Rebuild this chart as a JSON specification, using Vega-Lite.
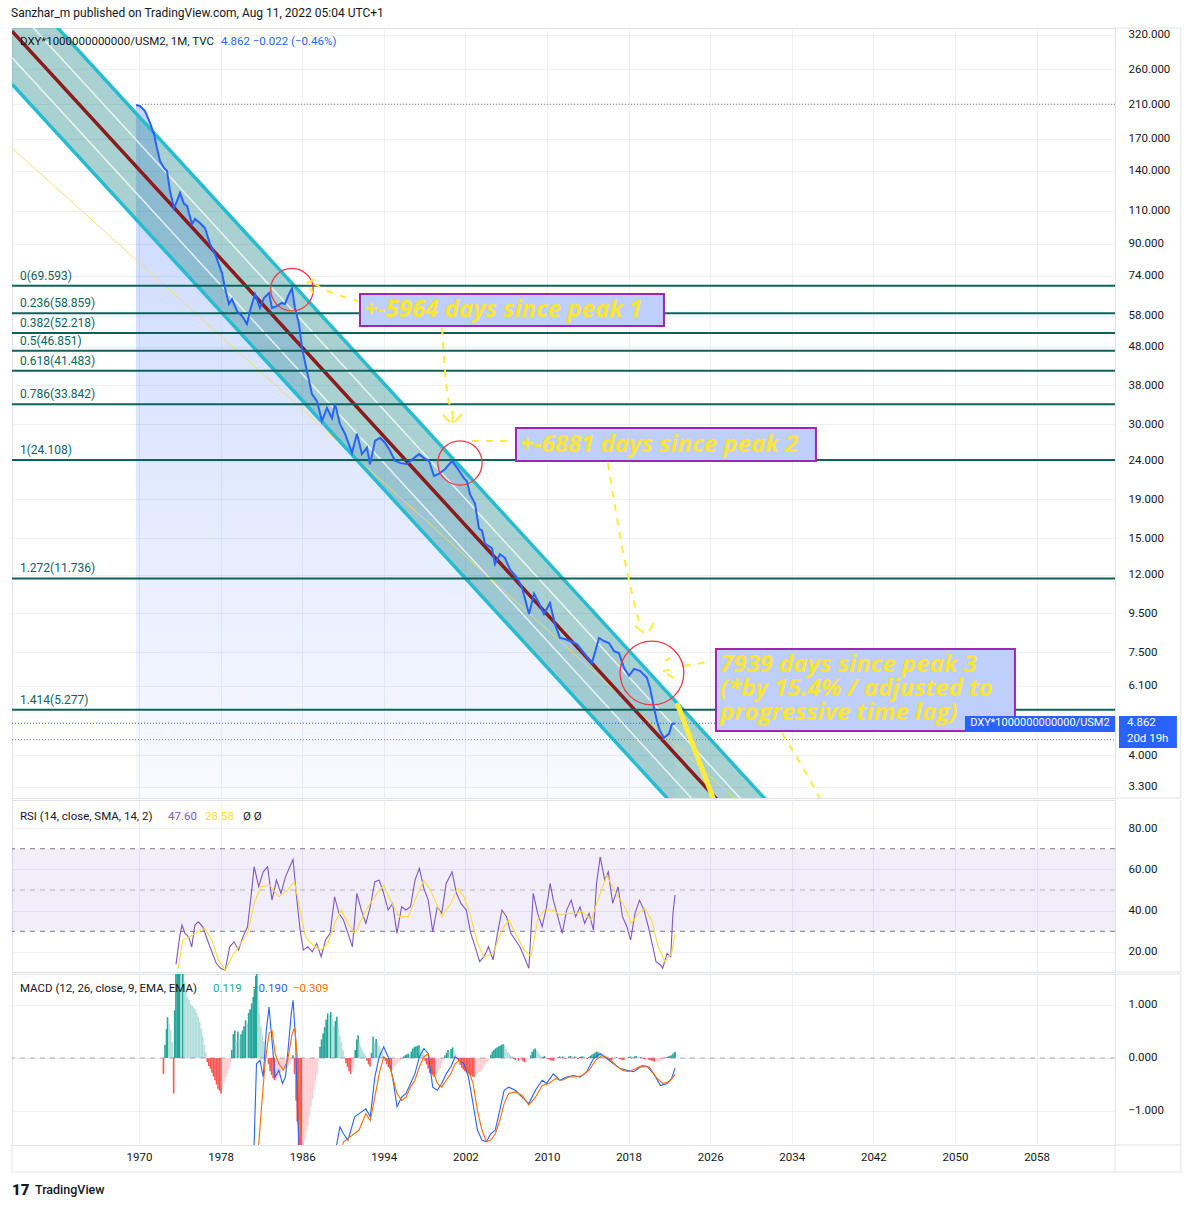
{
"$schema": "https://vega.github.io/schema/vega-lite/v6.json",
"background": "white",
"padding": {"left": 10, "top": 6, "right": 5, "bottom": 5},
"spacing": 0,
"config": {
  "font": "Roboto",
  "view": {"stroke": "#e0e3eb"},
  "axis": {"gridColor": "#eef0f5", "labelColor": "#131722", "labelFontSize": 11.5, "labelFont": "Roboto", "ticks": false, "domain": false}
},
"datasets": {
  "one": [{}],
  "price": [
    {"t":1969.7,"v":209.0},{"t":1970.1,"v":207.8},{"t":1970.59,"v":201.5},{"t":1971.08,"v":187.4},{"t":1971.47,"v":175.2},{"t":1971.76,"v":160.9},{"t":1972.06,"v":148.7},{"t":1972.45,"v":142.5},{"t":1972.75,"v":139.9},{"t":1973.04,"v":123.9},{"t":1973.43,"v":111.7},{"t":1973.73,"v":116.6},{"t":1974.02,"v":122.4},{"t":1974.41,"v":114.5},{"t":1974.71,"v":113.1},{"t":1975.2,"v":101.4},{"t":1975.49,"v":104.5},{"t":1975.98,"v":102.0},{"t":1976.47,"v":98.9},{"t":1976.96,"v":89.8},{"t":1977.45,"v":84.5},{"t":1978.14,"v":75.2},{"t":1978.43,"v":68.7},{"t":1978.82,"v":62.3},{"t":1979.12,"v":64.2},{"t":1979.61,"v":59.7},{"t":1980.1,"v":57.9},{"t":1980.59,"v":55.2},{"t":1980.88,"v":59.7},{"t":1981.37,"v":66.2},{"t":1981.86,"v":60.8},{"t":1982.25,"v":64.6},{"t":1982.75,"v":66.6},{"t":1983.04,"v":60.8},{"t":1983.53,"v":61.6},{"t":1984.02,"v":62.7},{"t":1984.31,"v":62.3},{"t":1984.71,"v":66.2},{"t":1985.0,"v":68.5},{"t":1985.29,"v":60.8},{"t":1985.69,"v":55.2},{"t":1985.98,"v":47.7},{"t":1986.47,"v":41.4},{"t":1986.96,"v":36.0},{"t":1987.45,"v":34.5},{"t":1987.94,"v":30.6},{"t":1988.43,"v":33.1},{"t":1988.92,"v":31.1},{"t":1989.22,"v":33.9},{"t":1989.71,"v":30.0},{"t":1990.2,"v":28.3},{"t":1990.88,"v":25.2},{"t":1991.37,"v":28.3},{"t":1991.86,"v":25.0},{"t":1992.35,"v":26.0},{"t":1992.65,"v":23.5},{"t":1993.14,"v":27.1},{"t":1993.63,"v":27.6},{"t":1994.12,"v":26.8},{"t":1994.61,"v":25.5},{"t":1995.1,"v":24.0},{"t":1995.59,"v":23.7},{"t":1996.27,"v":23.5},{"t":1996.96,"v":24.4},{"t":1997.45,"v":25.0},{"t":1997.94,"v":24.4},{"t":1998.43,"v":24.0},{"t":1998.92,"v":21.9},{"t":1999.41,"v":22.2},{"t":2000.0,"v":22.8},{"t":2000.69,"v":24.0},{"t":2001.18,"v":23.0},{"t":2001.86,"v":21.6},{"t":2002.16,"v":21.2},{"t":2002.45,"v":19.6},{"t":2002.94,"v":18.5},{"t":2003.33,"v":15.9},{"t":2003.63,"v":15.7},{"t":2003.92,"v":14.5},{"t":2004.61,"v":14.1},{"t":2004.9,"v":12.8},{"t":2005.39,"v":13.6},{"t":2005.88,"v":13.3},{"t":2006.37,"v":12.4},{"t":2007.06,"v":11.8},{"t":2007.55,"v":11.1},{"t":2008.24,"v":9.45},{"t":2008.73,"v":10.7},{"t":2009.22,"v":10.1},{"t":2009.71,"v":9.45},{"t":2010.29,"v":10.1},{"t":2010.78,"v":8.9},{"t":2011.27,"v":8.17},{"t":2011.76,"v":8.12},{"t":2012.25,"v":8.02},{"t":2012.94,"v":7.87},{"t":2013.63,"v":7.45},{"t":2014.41,"v":7.01},{"t":2015.1,"v":8.17},{"t":2015.59,"v":8.02},{"t":2016.08,"v":7.92},{"t":2016.57,"v":7.54},{"t":2017.06,"v":7.45},{"t":2017.55,"v":6.81},{"t":2018.04,"v":6.49},{"t":2018.53,"v":6.77},{"t":2019.12,"v":6.69},{"t":2019.8,"v":6.41},{"t":2020.1,"v":6.03},{"t":2020.49,"v":5.34},{"t":2020.78,"v":4.93},{"t":2021.08,"v":4.64},{"t":2021.47,"v":4.45},{"t":2021.96,"v":4.56},{"t":2022.25,"v":4.84},{"t":2022.55,"v":4.862}
  ],
  "chan": [{"t":1957.55,"up":452.3,"lo":237.4},{"t":2035.0,"up":2.4026,"lo":1.2609}],
  "chl": [
    {"ln":"upper","t":1957.55,"v":452.3},{"ln":"upper","t":2035.0,"v":2.4026},
    {"ln":"q1","t":1957.55,"v":385.0},{"ln":"q1","t":2035.0,"v":2.0449},
    {"ln":"center","t":1957.55,"v":327.7},{"ln":"center","t":2035.0,"v":1.7405},
    {"ln":"q3","t":1957.55,"v":278.9},{"ln":"q3","t":2035.0,"v":1.4814},
    {"ln":"lower","t":1957.55,"v":237.4},{"ln":"lower","t":2035.0,"v":1.2609}
  ],
  "ylw": [{"t":1957.55,"v":160.9},{"t":2035.0,"v":2.13}],
  "proj": [{"t":2022.75,"v":5.5},{"t":2027.06,"v":2.718}],
  "fib": [
    {"lab":"0(69.593)","lv":69.593},{"lab":"0.236(58.859)","lv":58.859},{"lab":"0.382(52.218)","lv":52.218},{"lab":"0.5(46.851)","lv":46.851},{"lab":"0.618(41.483)","lv":41.483},{"lab":"0.786(33.842)","lv":33.842},{"lab":"1(24.108)","lv":24.108},{"lab":"1.272(11.736)","lv":11.736},{"lab":"1.414(5.277)","lv":5.277}
  ],
  "conn": [
    {"seg":"A","t":1987.16,"v":70.37},{"seg":"A","t":1989.22,"v":66.21},{"seg":"A","t":1991.47,"v":63.46},
    {"seg":"B","t":1999.71,"v":53.85},{"seg":"B","t":2000.0,"v":41.45},{"seg":"B","t":2000.69,"v":32.11},
    {"seg":"C","t":2002.65,"v":27.08},{"seg":"C","t":2006.76,"v":27.08},
    {"seg":"D","t":2015.98,"v":23.69},{"seg":"D","t":2017.35,"v":14.3},{"seg":"D","t":2019.12,"v":8.79},
    {"seg":"E","t":2023.43,"v":6.89},{"seg":"E","t":2025.78,"v":7.06},
    {"seg":"F","t":2033.04,"v":4.58},{"seg":"F","t":2035.0,"v":3.75},{"seg":"F","t":2037.16,"v":2.94}
  ],
  "burst": [
    {"seg":"A1","t":1986.47,"v":70.79},{"seg":"A1","t":1987.25,"v":72.53},
    {"seg":"A2","t":1986.76,"v":68.67},{"seg":"A2","t":1987.06,"v":66.62},
    {"seg":"B1","t":1999.8,"v":31.72},{"seg":"B1","t":2000.49,"v":30.4},
    {"seg":"B2","t":2000.75,"v":32.5},{"seg":"B2","t":2000.76,"v":30.21},
    {"seg":"B3","t":2001.67,"v":31.91},{"seg":"B3","t":2000.98,"v":30.4},
    {"seg":"D1","t":2018.63,"v":8.79},{"seg":"D1","t":2019.51,"v":8.43},
    {"seg":"D2","t":2020.49,"v":8.95},{"seg":"D2","t":2020.0,"v":8.52},
    {"seg":"E1","t":2021.57,"v":7.1},{"seg":"E1","t":2022.06,"v":7.24},
    {"seg":"E2","t":2021.37,"v":6.68},{"seg":"E2","t":2022.06,"v":6.73},
    {"seg":"E3","t":2021.76,"v":6.56},{"seg":"E3","t":2022.45,"v":6.41}
  ],
  "boxes": [{"t1":1991.67,"t2":2021.47,"v1":66.21,"v2":54.51},{"t1":2006.96,"t2":2036.37,"v1":29.31,"v2":23.98},{"t1":2026.57,"t2":2055.88,"v1":7.64,"v2":4.64}],
  "notes": [{"txt":"+-5964 days since peak 1","t":1992.06,"v":60.08},{"txt":"+-6881 days since peak 2","t":2007.35,"v":26.43},{"txt":"7939 days since peak 3","t":2026.96,"v":6.93},{"txt":"(*by 15.4% / adjusted to","t":2026.96,"v":5.99},{"txt":"progressive time lag)","t":2026.96,"v":5.18}],
  "rsi": [
    {"t":1973.63,"v":14},{"t":1973.99,"v":27.4},{"t":1974.22,"v":33.0},{"t":1974.51,"v":29.0},{"t":1974.86,"v":27.4},{"t":1975.17,"v":22.5},{"t":1975.48,"v":33.0},{"t":1975.82,"v":34.6},{"t":1976.26,"v":32.2},{"t":1976.71,"v":25.8},{"t":1977.14,"v":20.1},{"t":1977.58,"v":14.5},{"t":1978.01,"v":12.1},{"t":1978.45,"v":11.2},{"t":1978.89,"v":22.5},{"t":1979.32,"v":24.9},{"t":1979.76,"v":20.9},{"t":1980.2,"v":27.4},{"t":1980.64,"v":32.2},{"t":1980.98,"v":46.7},{"t":1981.29,"v":61.3},{"t":1981.74,"v":51.6},{"t":1982.18,"v":58.8},{"t":1982.61,"v":61.3},{"t":1983.04,"v":45.1},{"t":1983.48,"v":54.8},{"t":1983.92,"v":48.4},{"t":1984.36,"v":56.4},{"t":1984.79,"v":61.3},{"t":1985.1,"v":64.8},{"t":1985.45,"v":46.7},{"t":1985.8,"v":30.6},{"t":1986.11,"v":20.9},{"t":1986.55,"v":22.5},{"t":1986.99,"v":20.1},{"t":1987.42,"v":24.2},{"t":1987.86,"v":17.7},{"t":1988.29,"v":25.8},{"t":1988.74,"v":29.0},{"t":1989.18,"v":46.7},{"t":1989.61,"v":38.7},{"t":1990.05,"v":35.5},{"t":1990.49,"v":29.0},{"t":1990.92,"v":22.5},{"t":1991.36,"v":48.4},{"t":1991.8,"v":40.3},{"t":1992.24,"v":33.9},{"t":1992.68,"v":41.9},{"t":1993.12,"v":54.0},{"t":1993.55,"v":54.8},{"t":1993.99,"v":48.4},{"t":1994.43,"v":40.3},{"t":1994.86,"v":43.5},{"t":1995.29,"v":29.0},{"t":1995.75,"v":41.9},{"t":1996.18,"v":40.3},{"t":1996.62,"v":41.9},{"t":1997.06,"v":54.8},{"t":1997.49,"v":60.5},{"t":1997.93,"v":50.8},{"t":1998.36,"v":45.1},{"t":1998.8,"v":29.8},{"t":1999.25,"v":41.9},{"t":1999.68,"v":38.7},{"t":2000.12,"v":53.2},{"t":2000.69,"v":58.8},{"t":2001.13,"v":48.4},{"t":2001.56,"v":43.5},{"t":2002.09,"v":40.3},{"t":2002.53,"v":29.0},{"t":2002.96,"v":22.5},{"t":2003.4,"v":15.3},{"t":2003.83,"v":17.7},{"t":2004.27,"v":22.5},{"t":2004.71,"v":16.1},{"t":2005.15,"v":29.0},{"t":2005.59,"v":40.3},{"t":2006.03,"v":37.1},{"t":2006.46,"v":29.0},{"t":2006.9,"v":25.8},{"t":2007.34,"v":22.5},{"t":2007.77,"v":17.7},{"t":2008.22,"v":12.1},{"t":2008.65,"v":48.4},{"t":2009.09,"v":38.7},{"t":2009.53,"v":32.2},{"t":2009.96,"v":41.9},{"t":2010.31,"v":53.2},{"t":2010.62,"v":45.1},{"t":2011.06,"v":37.1},{"t":2011.5,"v":29.0},{"t":2011.93,"v":40.3},{"t":2012.37,"v":45.1},{"t":2012.81,"v":37.1},{"t":2013.25,"v":41.9},{"t":2013.69,"v":33.9},{"t":2014.13,"v":38.7},{"t":2014.56,"v":30.6},{"t":2014.86,"v":53.2},{"t":2015.22,"v":66.1},{"t":2015.66,"v":54.8},{"t":2016.01,"v":58.8},{"t":2016.44,"v":43.5},{"t":2016.97,"v":51.6},{"t":2017.4,"v":37.1},{"t":2017.84,"v":32.2},{"t":2018.2,"v":25.8},{"t":2018.63,"v":38.7},{"t":2019.07,"v":45.1},{"t":2019.51,"v":40.3},{"t":2019.94,"v":32.2},{"t":2020.38,"v":22.5},{"t":2020.69,"v":15.3},{"t":2021.13,"v":13.7},{"t":2021.34,"v":12.1},{"t":2021.78,"v":19.3},{"t":2022.13,"v":17.7},{"t":2022.35,"v":38.7},{"t":2022.55,"v":47.6}
  ],
  "sma": [
    {"t":1973.85,"v":12},{"t":1974.29,"v":25.8},{"t":1974.95,"v":27.4},{"t":1975.82,"v":29.8},{"t":1976.48,"v":31.4},{"t":1977.14,"v":25.8},{"t":1977.79,"v":16.1},{"t":1978.45,"v":11.2},{"t":1979.11,"v":17.7},{"t":1979.76,"v":22.5},{"t":1980.64,"v":29.0},{"t":1981.29,"v":43.5},{"t":1981.95,"v":51.6},{"t":1982.82,"v":52.4},{"t":1983.71,"v":46.7},{"t":1984.58,"v":50.0},{"t":1985.24,"v":54.0},{"t":1985.8,"v":40.3},{"t":1986.32,"v":27.4},{"t":1987.21,"v":22.5},{"t":1987.86,"v":20.9},{"t":1988.52,"v":24.2},{"t":1989.18,"v":33.9},{"t":1989.83,"v":40.3},{"t":1990.49,"v":33.9},{"t":1991.15,"v":29.0},{"t":1991.8,"v":35.5},{"t":1992.46,"v":41.9},{"t":1993.33,"v":48.4},{"t":1993.99,"v":52.4},{"t":1994.65,"v":45.1},{"t":1995.52,"v":37.1},{"t":1996.4,"v":37.1},{"t":1997.05,"v":45.1},{"t":1997.93,"v":54.8},{"t":1998.59,"v":50.0},{"t":1999.68,"v":37.1},{"t":2000.56,"v":43.5},{"t":2001.22,"v":50.8},{"t":2001.87,"v":46.7},{"t":2002.53,"v":37.1},{"t":2003.19,"v":24.2},{"t":2003.83,"v":17.7},{"t":2004.71,"v":19.3},{"t":2005.59,"v":30.6},{"t":2006.25,"v":35.5},{"t":2006.9,"v":29.0},{"t":2007.77,"v":20.9},{"t":2008.43,"v":17.7},{"t":2009.09,"v":35.5},{"t":2009.75,"v":40.3},{"t":2010.62,"v":40.3},{"t":2011.27,"v":37.9},{"t":2011.93,"v":38.7},{"t":2012.81,"v":38.7},{"t":2013.47,"v":39.5},{"t":2014.34,"v":35.5},{"t":2015.0,"v":45.1},{"t":2015.87,"v":57.2},{"t":2016.75,"v":48.4},{"t":2017.63,"v":41.9},{"t":2018.27,"v":33.9},{"t":2018.94,"v":38.7},{"t":2019.6,"v":41.1},{"t":2020.25,"v":35.5},{"t":2020.91,"v":22.5},{"t":2021.57,"v":15.3},{"t":2022.22,"v":19.3},{"t":2022.55,"v":28.58}
  ],
  "macd": [
    {"t":1972.5,"v":-4},{"t":1980.8,"v":-2.6},{"t":1981.29,"v":-1.62},{"t":1981.52,"v":-0.11},{"t":1981.86,"v":-0.04},{"t":1982.18,"v":-0.36},{"t":1982.48,"v":0.52},{"t":1982.75,"v":0.96},{"t":1983.04,"v":0.33},{"t":1983.35,"v":-0.36},{"t":1983.71,"v":-0.23},{"t":1984.06,"v":-0.48},{"t":1984.36,"v":-0.36},{"t":1984.67,"v":0.27},{"t":1984.93,"v":0.84},{"t":1985.11,"v":1.09},{"t":1985.37,"v":0.27},{"t":1985.54,"v":-0.99},{"t":1985.72,"v":-1.75},{"t":1986.5,"v":-3.2},{"t":1988.5,"v":-2.5},{"t":1989.39,"v":-1.62},{"t":1989.7,"v":-1.3},{"t":1990.05,"v":-1.43},{"t":1990.49,"v":-1.55},{"t":1991.15,"v":-1.11},{"t":1991.58,"v":-1.05},{"t":1992.24,"v":-0.96},{"t":1992.68,"v":-1.11},{"t":1993.12,"v":-0.36},{"t":1993.55,"v":0.02},{"t":1993.99,"v":0.21},{"t":1994.43,"v":0.02},{"t":1994.86,"v":-0.36},{"t":1995.3,"v":-0.92},{"t":1995.75,"v":-0.74},{"t":1996.18,"v":-0.67},{"t":1996.62,"v":-0.48},{"t":1997.05,"v":-0.3},{"t":1997.49,"v":0.02},{"t":1997.93,"v":0.18},{"t":1998.36,"v":0.08},{"t":1998.8,"v":-0.55},{"t":1999.25,"v":-0.61},{"t":1999.68,"v":-0.48},{"t":2000.12,"v":-0.3},{"t":2000.56,"v":-0.17},{"t":2000.99,"v":0.02},{"t":2001.43,"v":-0.04},{"t":2001.87,"v":-0.11},{"t":2002.3,"v":-0.36},{"t":2002.75,"v":-0.86},{"t":2003.18,"v":-1.36},{"t":2003.62,"v":-1.55},{"t":2004.06,"v":-1.58},{"t":2004.49,"v":-1.43},{"t":2004.93,"v":-1.36},{"t":2005.37,"v":-0.99},{"t":2005.8,"v":-0.61},{"t":2006.25,"v":-0.55},{"t":2006.9,"v":-0.61},{"t":2007.56,"v":-0.74},{"t":2008.22,"v":-0.86},{"t":2008.87,"v":-0.61},{"t":2009.53,"v":-0.42},{"t":2009.96,"v":-0.48},{"t":2010.62,"v":-0.3},{"t":2011.27,"v":-0.42},{"t":2011.93,"v":-0.36},{"t":2012.59,"v":-0.33},{"t":2013.25,"v":-0.36},{"t":2013.9,"v":-0.26},{"t":2014.56,"v":-0.01},{"t":2015.22,"v":0.08},{"t":2015.87,"v":-0.01},{"t":2016.53,"v":-0.11},{"t":2017.19,"v":-0.2},{"t":2017.84,"v":-0.23},{"t":2018.5,"v":-0.26},{"t":2019.16,"v":-0.17},{"t":2019.81,"v":-0.16},{"t":2020.47,"v":-0.3},{"t":2021.13,"v":-0.52},{"t":2021.78,"v":-0.48},{"t":2022.22,"v":-0.39},{"t":2022.55,"v":-0.19}
  ],
  "sig": [
    {"t":1972.5,"v":-4},{"t":1981.0,"v":-2.8},{"t":1981.74,"v":-1.62},{"t":1982.04,"v":-0.86},{"t":1982.39,"v":-0.04},{"t":1982.75,"v":0.46},{"t":1983.04,"v":0.52},{"t":1983.35,"v":0.08},{"t":1983.71,"v":-0.11},{"t":1984.15,"v":-0.23},{"t":1984.58,"v":-0.04},{"t":1985.02,"v":0.46},{"t":1985.28,"v":0.58},{"t":1985.54,"v":-0.04},{"t":1985.8,"v":-1.11},{"t":1985.98,"v":-1.75},{"t":1987.0,"v":-3.2},{"t":1989.0,"v":-2.5},{"t":1990.05,"v":-1.58},{"t":1991.58,"v":-1.36},{"t":1992.24,"v":-1.05},{"t":1992.68,"v":-1.18},{"t":1993.12,"v":-0.74},{"t":1993.55,"v":-0.3},{"t":1993.99,"v":0.02},{"t":1994.43,"v":-0.04},{"t":1994.86,"v":-0.36},{"t":1995.3,"v":-0.67},{"t":1995.75,"v":-0.8},{"t":1996.18,"v":-0.74},{"t":1996.62,"v":-0.55},{"t":1997.05,"v":-0.42},{"t":1997.49,"v":-0.17},{"t":1997.93,"v":0.02},{"t":1998.36,"v":0.08},{"t":1998.8,"v":-0.23},{"t":1999.25,"v":-0.48},{"t":1999.68,"v":-0.55},{"t":2000.12,"v":-0.42},{"t":2000.56,"v":-0.3},{"t":2000.99,"v":-0.11},{"t":2001.43,"v":-0.04},{"t":2001.87,"v":-0.07},{"t":2002.3,"v":-0.23},{"t":2002.75,"v":-0.48},{"t":2003.18,"v":-0.99},{"t":2003.62,"v":-1.36},{"t":2004.06,"v":-1.58},{"t":2004.49,"v":-1.55},{"t":2004.93,"v":-1.43},{"t":2005.37,"v":-1.18},{"t":2005.8,"v":-0.86},{"t":2006.25,"v":-0.67},{"t":2006.9,"v":-0.64},{"t":2007.56,"v":-0.7},{"t":2008.22,"v":-0.89},{"t":2008.87,"v":-0.74},{"t":2009.53,"v":-0.52},{"t":2010.19,"v":-0.48},{"t":2010.84,"v":-0.39},{"t":2011.5,"v":-0.42},{"t":2012.16,"v":-0.36},{"t":2012.81,"v":-0.36},{"t":2013.47,"v":-0.33},{"t":2014.13,"v":-0.23},{"t":2014.78,"v":-0.04},{"t":2015.43,"v":0.05},{"t":2016.09,"v":-0.01},{"t":2016.75,"v":-0.14},{"t":2017.4,"v":-0.23},{"t":2018.06,"v":-0.26},{"t":2018.72,"v":-0.2},{"t":2019.37,"v":-0.14},{"t":2020.03,"v":-0.17},{"t":2020.69,"v":-0.36},{"t":2021.34,"v":-0.48},{"t":2022.0,"v":-0.45},{"t":2022.55,"v":-0.309}
  ],
  "hist": [
    {"t":1972.4,"h":-0.3,"k":"r"},{"t":1972.55,"h":0.25,"k":"g"},{"t":1972.7,"h":0.55,"k":"g"},{"t":1972.8,"h":0.77,"k":"g"},{"t":1972.95,"h":0.65,"k":"lg"},{"t":1973.1,"h":0.53,"k":"lg"},{"t":1973.25,"h":0.3,"k":"lg"},{"t":1973.4,"h":-0.67,"k":"r"},{"t":1973.5,"h":0.9,"k":"g"},{"t":1973.62,"h":1.7,"k":"g"},{"t":1973.75,"h":1.7,"k":"g"},{"t":1973.88,"h":1.7,"k":"g"},{"t":1974.0,"h":1.7,"k":"g"},{"t":1974.15,"h":1.55,"k":"lg"},{"t":1974.3,"h":1.7,"k":"g"},{"t":1974.45,"h":1.45,"k":"lg"},{"t":1974.6,"h":1.25,"k":"lg"},{"t":1974.75,"h":1.15,"k":"lg"},{"t":1974.9,"h":1.1,"k":"lg"},{"t":1975.05,"h":1.02,"k":"lg"},{"t":1975.2,"h":0.98,"k":"lg"},{"t":1975.35,"h":0.95,"k":"lg"},{"t":1975.5,"h":0.92,"k":"lg"},{"t":1975.65,"h":0.86,"k":"lg"},{"t":1975.8,"h":0.78,"k":"lg"},{"t":1975.95,"h":0.68,"k":"lg"},{"t":1976.1,"h":0.55,"k":"lg"},{"t":1976.25,"h":0.42,"k":"lg"},{"t":1976.4,"h":0.25,"k":"lg"},{"t":1976.55,"h":0.1,"k":"lg"},
    {"t":1976.7,"h":-0.08,"k":"r"},{"t":1976.85,"h":-0.15,"k":"r"},{"t":1977.0,"h":-0.2,"k":"r"},{"t":1977.15,"h":-0.28,"k":"r"},{"t":1977.3,"h":-0.35,"k":"r"},{"t":1977.45,"h":-0.42,"k":"r"},{"t":1977.6,"h":-0.5,"k":"r"},{"t":1977.75,"h":-0.58,"k":"r"},{"t":1977.9,"h":-0.62,"k":"r"},{"t":1978.05,"h":-0.67,"k":"r"},{"t":1978.2,"h":-0.55,"k":"lr"},{"t":1978.35,"h":-0.45,"k":"lr"},{"t":1978.5,"h":-0.38,"k":"lr"},{"t":1978.65,"h":-0.3,"k":"lr"},{"t":1978.8,"h":-0.22,"k":"lr"},{"t":1978.95,"h":-0.12,"k":"lr"},
    {"t":1979.1,"h":0.15,"k":"g"},{"t":1979.25,"h":0.45,"k":"g"},{"t":1979.4,"h":0.52,"k":"g"},{"t":1979.55,"h":0.3,"k":"lg"},{"t":1979.7,"h":0.5,"k":"g"},{"t":1979.85,"h":0.35,"k":"lg"},{"t":1980.0,"h":0.45,"k":"g"},{"t":1980.15,"h":0.52,"k":"g"},{"t":1980.3,"h":0.6,"k":"g"},{"t":1980.45,"h":0.71,"k":"g"},{"t":1980.6,"h":0.65,"k":"lg"},{"t":1980.75,"h":0.85,"k":"g"},{"t":1980.9,"h":0.92,"k":"g"},{"t":1981.05,"h":1.03,"k":"g"},{"t":1981.2,"h":1.15,"k":"g"},{"t":1981.32,"h":1.3,"k":"g"},{"t":1981.45,"h":1.55,"k":"g"},{"t":1981.55,"h":1.7,"k":"g"},{"t":1981.68,"h":1.1,"k":"lg"},{"t":1981.8,"h":0.85,"k":"lg"},{"t":1981.95,"h":0.6,"k":"lg"},{"t":1982.1,"h":0.45,"k":"lg"},{"t":1982.25,"h":0.32,"k":"lg"},{"t":1982.4,"h":0.15,"k":"lg"},{"t":1982.55,"h":0.05,"k":"lg"},
    {"t":1982.7,"h":-0.12,"k":"r"},{"t":1982.85,"h":-0.25,"k":"r"},{"t":1983.0,"h":-0.32,"k":"r"},{"t":1983.15,"h":-0.38,"k":"r"},{"t":1983.3,"h":-0.42,"k":"r"},{"t":1983.45,"h":-0.4,"k":"lr"},{"t":1983.6,"h":-0.37,"k":"lr"},{"t":1983.75,"h":-0.34,"k":"lr"},{"t":1983.9,"h":-0.28,"k":"lr"},{"t":1984.05,"h":-0.24,"k":"lr"},{"t":1984.2,"h":-0.22,"k":"lr"},{"t":1984.35,"h":-0.2,"k":"lr"},{"t":1984.5,"h":-0.18,"k":"lr"},{"t":1984.65,"h":-0.15,"k":"lr"},{"t":1984.8,"h":-0.1,"k":"lr"},{"t":1984.95,"h":-0.04,"k":"lr"},{"t":1985.1,"h":0.05,"k":"g"},
    {"t":1985.25,"h":-0.3,"k":"r"},{"t":1985.4,"h":-0.8,"k":"r"},{"t":1985.52,"h":-1.2,"k":"r"},{"t":1985.65,"h":-1.7,"k":"r"},{"t":1985.8,"h":-1.7,"k":"r"},{"t":1985.95,"h":-1.7,"k":"r"},{"t":1986.1,"h":-1.65,"k":"lr"},{"t":1986.25,"h":-1.55,"k":"lr"},{"t":1986.4,"h":-1.4,"k":"lr"},{"t":1986.55,"h":-1.28,"k":"lr"},{"t":1986.7,"h":-1.1,"k":"lr"},{"t":1986.85,"h":-0.92,"k":"lr"},{"t":1987.0,"h":-0.78,"k":"lr"},{"t":1987.15,"h":-0.6,"k":"lr"},{"t":1987.3,"h":-0.45,"k":"lr"},{"t":1987.45,"h":-0.3,"k":"lr"},{"t":1987.6,"h":-0.05,"k":"lr"},
    {"t":1987.75,"h":0.21,"k":"g"},{"t":1987.9,"h":0.35,"k":"g"},{"t":1988.05,"h":0.46,"k":"g"},{"t":1988.2,"h":0.58,"k":"g"},{"t":1988.35,"h":0.72,"k":"g"},{"t":1988.5,"h":0.84,"k":"g"},{"t":1988.65,"h":0.8,"k":"lg"},{"t":1988.8,"h":0.87,"k":"g"},{"t":1988.95,"h":0.75,"k":"lg"},{"t":1989.1,"h":0.6,"k":"lg"},{"t":1989.25,"h":0.7,"k":"g"},{"t":1989.4,"h":0.78,"k":"g"},{"t":1989.55,"h":0.6,"k":"lg"},{"t":1989.7,"h":0.42,"k":"lg"},{"t":1989.85,"h":0.3,"k":"lg"},{"t":1990.0,"h":0.15,"k":"lg"},{"t":1990.15,"h":0.03,"k":"lg"},
    {"t":1990.3,"h":-0.1,"k":"r"},{"t":1990.45,"h":-0.17,"k":"r"},{"t":1990.6,"h":-0.25,"k":"r"},{"t":1990.75,"h":-0.3,"k":"r"},{"t":1990.9,"h":-0.25,"k":"lr"},{"t":1991.05,"h":-0.17,"k":"lr"},{"t":1991.2,"h":0.15,"k":"g"},{"t":1991.35,"h":0.35,"k":"g"},{"t":1991.48,"h":0.43,"k":"g"},{"t":1991.6,"h":0.3,"k":"lg"},{"t":1991.75,"h":0.21,"k":"lg"},{"t":1991.9,"h":0.15,"k":"lg"},{"t":1992.05,"h":0.1,"k":"lg"},{"t":1992.2,"h":0.06,"k":"lg"},{"t":1992.35,"h":-0.05,"k":"r"},{"t":1992.5,"h":-0.12,"k":"r"},{"t":1992.65,"h":-0.16,"k":"r"},{"t":1992.8,"h":0.1,"k":"g"},{"t":1992.95,"h":0.4,"k":"g"},{"t":1993.1,"h":0.3,"k":"lg"},{"t":1993.25,"h":0.36,"k":"g"},{"t":1993.4,"h":0.3,"k":"lg"},{"t":1993.55,"h":0.22,"k":"lg"},{"t":1993.7,"h":0.16,"k":"lg"},{"t":1993.85,"h":0.1,"k":"lg"},{"t":1994.0,"h":0.04,"k":"lg"},
    {"t":1994.15,"h":-0.05,"k":"r"},{"t":1994.3,"h":-0.12,"k":"r"},{"t":1994.45,"h":-0.17,"k":"r"},{"t":1994.6,"h":-0.2,"k":"r"},{"t":1994.75,"h":-0.23,"k":"r"},{"t":1994.9,"h":-0.2,"k":"lr"},{"t":1995.05,"h":-0.17,"k":"lr"},{"t":1995.2,"h":-0.13,"k":"lr"},{"t":1995.35,"h":-0.1,"k":"lr"},{"t":1995.5,"h":-0.07,"k":"lr"},{"t":1995.65,"h":-0.05,"k":"lr"},{"t":1995.8,"h":-0.03,"k":"lr"},{"t":1995.95,"h":0.03,"k":"g"},{"t":1996.1,"h":0.05,"k":"g"},{"t":1996.25,"h":0.07,"k":"g"},{"t":1996.4,"h":0.08,"k":"g"},{"t":1996.55,"h":0.06,"k":"lg"},{"t":1996.7,"h":0.12,"k":"g"},{"t":1996.85,"h":0.18,"k":"g"},{"t":1997.0,"h":0.21,"k":"g"},{"t":1997.15,"h":0.22,"k":"g"},{"t":1997.3,"h":0.23,"k":"g"},{"t":1997.45,"h":0.24,"k":"g"},{"t":1997.6,"h":0.18,"k":"lg"},{"t":1997.75,"h":0.12,"k":"lg"},{"t":1997.9,"h":0.08,"k":"lg"},
    {"t":1998.05,"h":-0.05,"k":"r"},{"t":1998.2,"h":-0.12,"k":"r"},{"t":1998.35,"h":-0.2,"k":"r"},{"t":1998.5,"h":-0.28,"k":"r"},{"t":1998.65,"h":-0.3,"k":"r"},{"t":1998.8,"h":-0.33,"k":"r"},{"t":1998.95,"h":-0.36,"k":"r"},{"t":1999.1,"h":-0.32,"k":"lr"},{"t":1999.25,"h":-0.28,"k":"lr"},{"t":1999.4,"h":-0.23,"k":"lr"},{"t":1999.55,"h":-0.18,"k":"lr"},{"t":1999.7,"h":-0.1,"k":"lr"},{"t":1999.85,"h":-0.04,"k":"lr"},{"t":2000.0,"h":0.05,"k":"g"},{"t":2000.15,"h":0.1,"k":"g"},{"t":2000.3,"h":0.15,"k":"g"},{"t":2000.45,"h":0.13,"k":"lg"},{"t":2000.6,"h":0.17,"k":"g"},{"t":2000.75,"h":0.2,"k":"g"},{"t":2000.9,"h":0.14,"k":"lg"},{"t":2001.05,"h":0.08,"k":"lg"},{"t":2001.2,"h":0.03,"k":"lg"},
    {"t":2001.35,"h":-0.06,"k":"r"},{"t":2001.5,"h":-0.13,"k":"r"},{"t":2001.65,"h":-0.19,"k":"r"},{"t":2001.8,"h":-0.22,"k":"r"},{"t":2001.95,"h":-0.25,"k":"r"},{"t":2002.1,"h":-0.27,"k":"r"},{"t":2002.25,"h":-0.3,"k":"r"},{"t":2002.4,"h":-0.32,"k":"r"},{"t":2002.55,"h":-0.33,"k":"r"},{"t":2002.7,"h":-0.35,"k":"r"},{"t":2002.85,"h":-0.36,"k":"r"},{"t":2003.0,"h":-0.33,"k":"lr"},{"t":2003.15,"h":-0.3,"k":"lr"},{"t":2003.3,"h":-0.27,"k":"lr"},{"t":2003.45,"h":-0.25,"k":"lr"},{"t":2003.6,"h":-0.23,"k":"lr"},{"t":2003.75,"h":-0.18,"k":"lr"},{"t":2003.9,"h":-0.13,"k":"lr"},{"t":2004.05,"h":-0.1,"k":"lr"},{"t":2004.2,"h":-0.06,"k":"lr"},{"t":2004.35,"h":-0.02,"k":"lr"},
    {"t":2004.5,"h":0.06,"k":"g"},{"t":2004.65,"h":0.12,"k":"g"},{"t":2004.8,"h":0.15,"k":"g"},{"t":2004.95,"h":0.18,"k":"g"},{"t":2005.1,"h":0.2,"k":"g"},{"t":2005.25,"h":0.22,"k":"g"},{"t":2005.4,"h":0.23,"k":"g"},{"t":2005.55,"h":0.25,"k":"g"},{"t":2005.7,"h":0.26,"k":"g"},{"t":2005.85,"h":0.24,"k":"lg"},{"t":2006.0,"h":0.17,"k":"lg"},{"t":2006.15,"h":0.11,"k":"lg"},{"t":2006.3,"h":0.08,"k":"lg"},{"t":2006.45,"h":0.04,"k":"lg"},{"t":2006.6,"h":0.02,"k":"lg"},
    {"t":2006.75,"h":-0.02,"k":"r"},{"t":2006.9,"h":-0.04,"k":"r"},{"t":2007.05,"h":-0.03,"k":"lr"},{"t":2007.2,"h":-0.05,"k":"r"},{"t":2007.35,"h":-0.04,"k":"lr"},{"t":2007.5,"h":-0.03,"k":"lr"},{"t":2007.65,"h":-0.06,"k":"r"},{"t":2007.8,"h":-0.08,"k":"r"},{"t":2007.95,"h":-0.05,"k":"lr"},{"t":2008.1,"h":-0.03,"k":"lr"},{"t":2008.25,"h":-0.02,"k":"lr"},{"t":2008.4,"h":0.05,"k":"g"},{"t":2008.55,"h":0.12,"k":"g"},{"t":2008.7,"h":0.16,"k":"g"},{"t":2008.85,"h":0.18,"k":"g"},{"t":2009.0,"h":0.14,"k":"lg"},{"t":2009.15,"h":0.1,"k":"lg"},{"t":2009.3,"h":0.06,"k":"lg"},{"t":2009.45,"h":0.03,"k":"lg"},{"t":2009.6,"h":0.02,"k":"g"},{"t":2009.75,"h":0.04,"k":"g"},{"t":2009.9,"h":0.02,"k":"lg"},
    {"t":2010.05,"h":-0.02,"k":"r"},{"t":2010.2,"h":-0.03,"k":"r"},{"t":2010.35,"h":-0.04,"k":"r"},{"t":2010.5,"h":-0.05,"k":"r"},{"t":2010.65,"h":-0.05,"k":"r"},{"t":2010.8,"h":-0.04,"k":"lr"},{"t":2010.95,"h":-0.02,"k":"lr"},{"t":2011.1,"h":0.02,"k":"g"},{"t":2011.25,"h":0.03,"k":"g"},{"t":2011.4,"h":0.02,"k":"lg"},{"t":2011.55,"h":0.03,"k":"g"},{"t":2011.7,"h":0.02,"k":"lg"},{"t":2011.85,"h":-0.02,"k":"r"},{"t":2012.0,"h":-0.01,"k":"lr"},{"t":2012.15,"h":0.03,"k":"g"},{"t":2012.3,"h":0.04,"k":"g"},{"t":2012.45,"h":0.03,"k":"lg"},{"t":2012.6,"h":0.02,"k":"lg"},{"t":2012.75,"h":0.03,"k":"g"},{"t":2012.9,"h":0.02,"k":"lg"},{"t":2013.05,"h":-0.02,"k":"r"},{"t":2013.2,"h":0.02,"k":"g"},{"t":2013.35,"h":0.03,"k":"g"},{"t":2013.5,"h":0.03,"k":"g"},{"t":2013.65,"h":0.02,"k":"lg"},{"t":2013.8,"h":0.01,"k":"lg"},{"t":2013.95,"h":-0.02,"k":"r"},
    {"t":2014.1,"h":0.02,"k":"g"},{"t":2014.25,"h":0.04,"k":"g"},{"t":2014.4,"h":0.06,"k":"g"},{"t":2014.55,"h":0.08,"k":"g"},{"t":2014.7,"h":0.1,"k":"g"},{"t":2014.85,"h":0.12,"k":"g"},{"t":2015.0,"h":0.12,"k":"g"},{"t":2015.15,"h":0.11,"k":"lg"},{"t":2015.3,"h":0.09,"k":"lg"},{"t":2015.45,"h":0.08,"k":"lg"},{"t":2015.6,"h":0.06,"k":"lg"},{"t":2015.75,"h":0.03,"k":"lg"},{"t":2015.9,"h":-0.02,"k":"r"},{"t":2016.05,"h":-0.03,"k":"r"},{"t":2016.2,"h":-0.04,"k":"r"},{"t":2016.35,"h":-0.04,"k":"r"},{"t":2016.5,"h":-0.03,"k":"lr"},{"t":2016.65,"h":-0.02,"k":"lr"},{"t":2016.8,"h":0.02,"k":"g"},{"t":2016.95,"h":0.02,"k":"lg"},{"t":2017.1,"h":-0.02,"k":"r"},{"t":2017.25,"h":-0.03,"k":"r"},{"t":2017.4,"h":-0.04,"k":"r"},{"t":2017.55,"h":-0.04,"k":"r"},{"t":2017.7,"h":-0.03,"k":"lr"},{"t":2017.85,"h":-0.02,"k":"lr"},
    {"t":2018.0,"h":0.02,"k":"g"},{"t":2018.15,"h":0.03,"k":"g"},{"t":2018.3,"h":0.03,"k":"lg"},{"t":2018.45,"h":0.02,"k":"lg"},{"t":2018.6,"h":0.03,"k":"g"},{"t":2018.75,"h":0.04,"k":"g"},{"t":2018.9,"h":0.03,"k":"lg"},{"t":2019.05,"h":0.02,"k":"lg"},{"t":2019.2,"h":0.02,"k":"g"},{"t":2019.35,"h":0.01,"k":"lg"},{"t":2019.5,"h":-0.02,"k":"r"},{"t":2019.65,"h":-0.03,"k":"r"},{"t":2019.8,"h":-0.02,"k":"lr"},{"t":2019.95,"h":-0.03,"k":"r"},{"t":2020.1,"h":-0.04,"k":"r"},{"t":2020.25,"h":-0.05,"k":"r"},{"t":2020.4,"h":-0.06,"k":"r"},{"t":2020.55,"h":-0.07,"k":"r"},{"t":2020.7,"h":-0.07,"k":"lr"},{"t":2020.85,"h":-0.07,"k":"lr"},{"t":2021.0,"h":-0.06,"k":"lr"},{"t":2021.15,"h":-0.05,"k":"lr"},{"t":2021.3,"h":-0.04,"k":"lr"},{"t":2021.45,"h":-0.02,"k":"lr"},{"t":2021.6,"h":0.01,"k":"g"},{"t":2021.75,"h":0.02,"k":"g"},{"t":2021.9,"h":0.03,"k":"g"},{"t":2022.05,"h":0.04,"k":"g"},{"t":2022.2,"h":0.05,"k":"g"},{"t":2022.35,"h":0.08,"k":"g"},{"t":2022.5,"h":0.1,"k":"g"},{"t":2022.55,"h":0.119,"k":"g"}
  ]
},
"vconcat": [
  {
    "width": 1103, "height": 770,
    "title": {"text": "Sanzhar_m published on TradingView.com, Aug 11, 2022 05:04 UTC+1", "anchor": "start", "fontSize": 12, "fontWeight": "normal", "color": "#131722", "offset": 8, "font": "Roboto"},
    "layer": [
      {"data": {"name": "price"},
       "mark": {"type": "area", "clip": true, "color": {"gradient": "linear", "x1": 0, "y1": 0, "x2": 0, "y2": 1, "stops": [{"offset": 0, "color": "rgba(41,98,255,0.26)"}, {"offset": 1, "color": "rgba(41,98,255,0.03)"}]}},
       "encoding": {
         "x": {"field": "t", "type": "quantitative", "title": null, "scale": {"domain": [1957.55, 2065.69], "nice": false, "zero": false},
               "axis": {"values": [1970,1978,1986,1994,2002,2010,2018,2026,2034,2042,2050,2058], "grid": true, "labels": false, "ticks": false, "domain": false, "title": null}},
         "y": {"field": "v", "type": "quantitative", "title": null, "scale": {"type": "log", "domain": [3.086, 333.9], "nice": false},
               "axis": {"orient": "right", "values": [3.3,4,6.1,7.5,9.5,12,15,19,24,30,38,48,58,74,90,110,140,170,210,260,320], "format": ".3f", "labelPadding": 13, "grid": true, "title": null}},
         "y2": {"datum": 3.086}
       }},
      {"data": {"name": "chan"}, "mark": {"type": "area", "clip": true, "color": "#2a8c8c", "opacity": 0.4},
       "encoding": {"x": {"field": "t", "type": "quantitative", "title": null}, "y": {"field": "up", "type": "quantitative", "title": null}, "y2": {"field": "lo"}}},
      {"data": {"name": "chl"}, "transform": [{"filter": "datum.ln == 'q1' || datum.ln == 'q3'"}], "mark": {"type": "line", "clip": true, "color": "#ffffff", "strokeWidth": 1.5, "opacity": 0.75},
       "encoding": {"x": {"field": "t", "type": "quantitative", "title": null}, "y": {"field": "v", "type": "quantitative", "title": null}, "detail": {"field": "ln"}}},
      {"data": {"name": "ylw"}, "mark": {"type": "line", "clip": true, "color": "#f2dc6a", "strokeWidth": 1, "opacity": 0.9},
       "encoding": {"x": {"field": "t", "type": "quantitative", "title": null}, "y": {"field": "v", "type": "quantitative", "title": null}}},
      {"data": {"name": "chl"}, "transform": [{"filter": "datum.ln == 'center'"}], "mark": {"type": "line", "clip": true, "color": "#8b1c1c", "strokeWidth": 3.5},
       "encoding": {"x": {"field": "t", "type": "quantitative", "title": null}, "y": {"field": "v", "type": "quantitative", "title": null}}},
      {"data": {"name": "chl"}, "transform": [{"filter": "datum.ln == 'upper' || datum.ln == 'lower'"}], "mark": {"type": "line", "clip": true, "color": "#27bccf", "strokeWidth": 3.5},
       "encoding": {"x": {"field": "t", "type": "quantitative", "title": null}, "y": {"field": "v", "type": "quantitative", "title": null}, "detail": {"field": "ln"}}},
      {"data": {"name": "fib"}, "mark": {"type": "rule", "color": "#0e625b", "strokeWidth": 2},
       "encoding": {"y": {"field": "lv", "type": "quantitative", "title": null}}},
      {"data": {"name": "fib"}, "mark": {"type": "text", "align": "left", "baseline": "middle", "dy": -10, "fontSize": 12, "color": "#0e625b"},
       "encoding": {"x": {"datum": 1958.33}, "y": {"field": "lv", "type": "quantitative", "title": null}, "text": {"field": "lab"}}},
      {"data": {"name": "one"}, "mark": {"type": "rule", "color": "#787b86", "strokeDash": [1, 2], "strokeWidth": 1},
       "encoding": {"x": {"datum": 1970.3}, "x2": {"datum": 2065.69}, "y": {"datum": 210}}},
      {"data": {"name": "one"}, "mark": {"type": "rule", "color": "#787b86", "strokeDash": [1, 2], "strokeWidth": 1},
       "encoding": {"x": {"datum": 1957.55}, "x2": {"datum": 2065.69}, "y": {"datum": 4.4}}},
      {"data": {"name": "one"}, "mark": {"type": "rule", "color": "#2962ff", "strokeDash": [1, 2], "strokeWidth": 1},
       "encoding": {"x": {"datum": 1957.55}, "x2": {"datum": 2065.69}, "y": {"datum": 4.862}}},
      {"data": {"name": "price"}, "mark": {"type": "line", "clip": true, "color": "#2962ff", "strokeWidth": 2},
       "encoding": {"x": {"field": "t", "type": "quantitative", "title": null}, "y": {"field": "v", "type": "quantitative", "title": null}}},
      {"data": {"name": "proj"}, "mark": {"type": "line", "clip": true, "color": "#ffeb3b", "strokeWidth": 5},
       "encoding": {"x": {"field": "t", "type": "quantitative", "title": null}, "y": {"field": "v", "type": "quantitative", "title": null}}},
      {"data": {"name": "one"}, "mark": {"type": "point", "shape": "circle", "size": 1810, "filled": false, "color": "#f23645", "strokeWidth": 1.3, "opacity": 1},
       "encoding": {"x": {"datum": 1985.0}, "y": {"datum": 68.0}}},
      {"data": {"name": "one"}, "mark": {"type": "point", "shape": "circle", "size": 1963, "filled": false, "color": "#f23645", "strokeWidth": 1.3, "opacity": 1},
       "encoding": {"x": {"datum": 2001.47}, "y": {"datum": 23.69}}},
      {"data": {"name": "one"}, "mark": {"type": "point", "shape": "circle", "size": 4072, "filled": false, "color": "#f23645", "strokeWidth": 1.3, "opacity": 1},
       "encoding": {"x": {"datum": 2020.29}, "y": {"datum": 6.6}}},
      {"data": {"name": "conn"}, "mark": {"type": "line", "clip": true, "color": "#ffeb3b", "strokeWidth": 2, "strokeDash": [7, 7], "interpolate": "monotone"},
       "encoding": {"x": {"field": "t", "type": "quantitative", "title": null}, "y": {"field": "v", "type": "quantitative", "title": null}, "detail": {"field": "seg"}}},
      {"data": {"name": "burst"}, "mark": {"type": "line", "clip": true, "color": "#ffeb3b", "strokeWidth": 2},
       "encoding": {"x": {"field": "t", "type": "quantitative", "title": null}, "y": {"field": "v", "type": "quantitative", "title": null}, "detail": {"field": "seg"}}},
      {"data": {"name": "boxes"}, "mark": {"type": "rect", "fill": "#bfcffb", "stroke": "#9c27b0", "strokeWidth": 2},
       "encoding": {"x": {"field": "t1", "type": "quantitative", "title": null}, "x2": {"field": "t2"}, "y": {"field": "v1", "type": "quantitative", "title": null}, "y2": {"field": "v2"}}},
      {"data": {"name": "notes"}, "mark": {"type": "text", "align": "left", "baseline": "middle", "font": "Open Sans", "fontSize": 24, "fontWeight": "bold", "fontStyle": "italic", "color": "#f9e532"},
       "encoding": {"x": {"field": "t", "type": "quantitative", "title": null}, "y": {"field": "v", "type": "quantitative", "title": null}, "text": {"field": "txt"}}},
      {"data": {"name": "one"}, "mark": {"type": "text", "align": "left", "baseline": "middle", "fontSize": 11.5, "color": "#131722"},
       "encoding": {"x": {"datum": 1958.33}, "y": {"datum": 306.7}, "text": {"value": "DXY*1000000000000/USM2, 1M, TVC"}}},
      {"data": {"name": "one"}, "mark": {"type": "text", "align": "left", "baseline": "middle", "fontSize": 11.5, "color": "#2962ff"},
       "encoding": {"x": {"datum": 1978.04}, "y": {"datum": 306.7}, "text": {"value": "4.862  −0.022 (−0.46%)"}}},
      {"data": {"name": "one"}, "mark": {"type": "rect", "fill": "#2962ff"},
       "encoding": {"x": {"datum": 2050.98}, "x2": {"datum": 2065.69}, "y": {"datum": 5.084}, "y2": {"datum": 4.612}}},
      {"data": {"name": "one"}, "mark": {"type": "text", "align": "center", "baseline": "middle", "fontSize": 11, "color": "#ffffff"},
       "encoding": {"x": {"datum": 2058.33}, "y": {"datum": 4.862}, "text": {"value": "DXY*1000000000000/USM2"}}},
      {"data": {"name": "one"}, "mark": {"type": "rect", "fill": "#2962ff"},
       "encoding": {"x": {"datum": 2066.08}, "x2": {"datum": 2071.76}, "y": {"datum": 5.084}, "y2": {"datum": 4.184}}},
      {"data": {"name": "one"}, "mark": {"type": "text", "align": "left", "baseline": "middle", "fontSize": 11.5, "color": "#ffffff"},
       "encoding": {"x": {"datum": 2066.86}, "y": {"datum": 4.86}, "text": {"value": "4.862"}}},
      {"data": {"name": "one"}, "mark": {"type": "text", "align": "left", "baseline": "middle", "fontSize": 11.5, "color": "#ffffff"},
       "encoding": {"x": {"datum": 2066.86}, "y": {"datum": 4.419}, "text": {"value": "20d 19h"}}},
      {"data": {"name": "one"}, "mark": {"type": "rule", "color": "#e0e3eb", "strokeWidth": 1},
       "encoding": {"x": {"datum": 2072.15}}},
      {"data": {"name": "one"}, "mark": {"type": "rule", "color": "#e0e3eb", "strokeWidth": 1},
       "encoding": {"x": {"datum": 2065.69}, "x2": {"datum": 2072.15}, "y": {"datum": 333.9}}},
      {"data": {"name": "one"}, "mark": {"type": "rule", "color": "#e0e3eb", "strokeWidth": 1},
       "encoding": {"x": {"datum": 2065.69}, "x2": {"datum": 2072.15}, "y": {"datum": 3.086}}}
    ]
  },
  {
    "width": 1103, "height": 172,
    "layer": [
      {"data": {"name": "rsi"}, "mark": {"type": "line", "clip": true, "color": "#7e57c2", "strokeWidth": 1.1, "opacity": 0},
       "encoding": {
         "x": {"field": "t", "type": "quantitative", "title": null, "scale": {"domain": [1957.55, 2065.69], "nice": false, "zero": false},
               "axis": {"values": [1970,1978,1986,1994,2002,2010,2018,2026,2034,2042,2050,2058], "grid": true, "labels": false, "ticks": false, "domain": false, "title": null}},
         "y": {"field": "v", "type": "quantitative", "title": null, "scale": {"domain": [10.3, 93.6], "nice": false, "zero": false},
               "axis": {"orient": "right", "values": [20, 40, 60, 80], "format": ".2f", "labelPadding": 13, "grid": true, "title": null}}
       }},
      {"data": {"name": "one"}, "mark": {"type": "rect", "fill": "#7e57c2", "opacity": 0.1},
       "encoding": {"x": {"datum": 1957.55}, "x2": {"datum": 2065.69}, "y": {"datum": 70}, "y2": {"datum": 30}}},
      {"data": {"name": "one"}, "mark": {"type": "rule", "color": "#787b86", "strokeDash": [5, 5], "strokeWidth": 1},
       "encoding": {"y": {"datum": 70}}},
      {"data": {"name": "one"}, "mark": {"type": "rule", "color": "#787b86", "strokeDash": [5, 5], "strokeWidth": 1},
       "encoding": {"y": {"datum": 30}}},
      {"data": {"name": "one"}, "mark": {"type": "rule", "color": "#787b86", "strokeDash": [5, 5], "strokeWidth": 1, "opacity": 0.5},
       "encoding": {"y": {"datum": 50}}},
      {"data": {"name": "rsi"}, "mark": {"type": "line", "clip": true, "color": "#7e57c2", "strokeWidth": 1.1},
       "encoding": {"x": {"field": "t", "type": "quantitative", "title": null}, "y": {"field": "v", "type": "quantitative", "title": null}}},
      {"data": {"name": "sma"}, "mark": {"type": "line", "clip": true, "color": "#fbdc3c", "strokeWidth": 1.1},
       "encoding": {"x": {"field": "t", "type": "quantitative", "title": null}, "y": {"field": "v", "type": "quantitative", "title": null}}},
      {"data": {"name": "one"}, "mark": {"type": "text", "align": "left", "baseline": "middle", "fontSize": 11.5, "color": "#131722"},
       "encoding": {"x": {"datum": 1958.33}, "y": {"datum": 85.3}, "text": {"value": "RSI (14, close, SMA, 14, 2)"}}},
      {"data": {"name": "one"}, "mark": {"type": "text", "align": "left", "baseline": "middle", "fontSize": 11.5, "color": "#7e57c2"},
       "encoding": {"x": {"datum": 1972.84}, "y": {"datum": 85.3}, "text": {"value": "47.60"}}},
      {"data": {"name": "one"}, "mark": {"type": "text", "align": "left", "baseline": "middle", "fontSize": 11.5, "color": "#fbdc3c"},
       "encoding": {"x": {"datum": 1976.47}, "y": {"datum": 85.3}, "text": {"value": "28.58"}}},
      {"data": {"name": "one"}, "mark": {"type": "text", "align": "left", "baseline": "middle", "fontSize": 11.5, "color": "#131722"},
       "encoding": {"x": {"datum": 1980.2}, "y": {"datum": 85.3}, "text": {"value": "Ø  Ø"}}},
      {"data": {"name": "one"}, "mark": {"type": "rule", "color": "#e0e3eb", "strokeWidth": 1},
       "encoding": {"x": {"datum": 2072.15}}},
      {"data": {"name": "one"}, "mark": {"type": "rule", "color": "#e0e3eb", "strokeWidth": 1},
       "encoding": {"x": {"datum": 2065.69}, "x2": {"datum": 2072.15}, "y": {"datum": 10.3}}}
    ]
  },
  {
    "width": 1103, "height": 171,
    "layer": [
      {"data": {"name": "hist"}, "mark": {"type": "rule", "clip": true, "strokeWidth": 1.6},
       "encoding": {
         "x": {"field": "t", "type": "quantitative", "title": null, "scale": {"domain": [1957.55, 2065.69], "nice": false, "zero": false},
               "axis": {"values": [1970,1978,1986,1994,2002,2010,2018,2026,2034,2042,2050,2058], "format": "d", "grid": true, "labels": true, "labelPadding": 6, "ticks": false, "domain": false, "title": null}},
         "y": {"field": "h", "type": "quantitative", "title": null, "scale": {"domain": [-1.642, 1.585], "nice": false, "zero": false},
               "axis": {"orient": "right", "values": [-1, 0, 1], "format": ".3f", "labelPadding": 13, "grid": true, "title": null}},
         "y2": {"datum": 0},
         "color": {"field": "k", "type": "nominal", "scale": {"domain": ["g", "lg", "r", "lr"], "range": ["#26a69a", "#b2dfdb", "#ff5252", "#ffcdd2"]}, "legend": null}
       }},
      {"data": {"name": "one"}, "mark": {"type": "rule", "color": "#787b86", "strokeDash": [5, 5], "strokeWidth": 1, "opacity": 0.6},
       "encoding": {"y": {"datum": 0}}},
      {"data": {"name": "macd"}, "mark": {"type": "line", "clip": true, "color": "#2962ff", "strokeWidth": 1.1},
       "encoding": {"x": {"field": "t", "type": "quantitative", "title": null}, "y": {"field": "v", "type": "quantitative", "title": null}}},
      {"data": {"name": "sig"}, "mark": {"type": "line", "clip": true, "color": "#ff6d00", "strokeWidth": 1.1},
       "encoding": {"x": {"field": "t", "type": "quantitative", "title": null}, "y": {"field": "v", "type": "quantitative", "title": null}}},
      {"data": {"name": "one"}, "mark": {"type": "text", "align": "left", "baseline": "middle", "fontSize": 11.5, "color": "#131722"},
       "encoding": {"x": {"datum": 1958.33}, "y": {"datum": 1.3}, "text": {"value": "MACD (12, 26, close, 9, EMA, EMA)"}}},
      {"data": {"name": "one"}, "mark": {"type": "text", "align": "left", "baseline": "middle", "fontSize": 11.5, "color": "#22ab94"},
       "encoding": {"x": {"datum": 1977.25}, "y": {"datum": 1.3}, "text": {"value": "0.119"}}},
      {"data": {"name": "one"}, "mark": {"type": "text", "align": "left", "baseline": "middle", "fontSize": 11.5, "color": "#2962ff"},
       "encoding": {"x": {"datum": 1981.08}, "y": {"datum": 1.3}, "text": {"value": "−0.190"}}},
      {"data": {"name": "one"}, "mark": {"type": "text", "align": "left", "baseline": "middle", "fontSize": 11.5, "color": "#ff6d00"},
       "encoding": {"x": {"datum": 1985.1}, "y": {"datum": 1.3}, "text": {"value": "−0.309"}}},
      {"data": {"name": "one"}, "mark": {"type": "text", "align": "left", "baseline": "middle", "fontSize": 15, "fontWeight": 900, "color": "#131722"},
       "encoding": {"x": {"datum": 1957.55}, "y": {"datum": -2.49}, "text": {"value": "17"}}},
      {"data": {"name": "one"}, "mark": {"type": "text", "align": "left", "baseline": "middle", "fontSize": 12.5, "fontWeight": 500, "color": "#131722"},
       "encoding": {"x": {"datum": 1959.8}, "y": {"datum": -2.49}, "text": {"value": "TradingView"}}},
      {"data": {"name": "one"}, "mark": {"type": "rule", "color": "#e0e3eb", "strokeWidth": 1},
       "encoding": {"x": {"datum": 2072.15}, "y": {"datum": 1.585}, "y2": {"datum": -2.151}}},
      {"data": {"name": "one"}, "mark": {"type": "rule", "color": "#e0e3eb", "strokeWidth": 1},
       "encoding": {"x": {"datum": 1957.55}, "y": {"datum": -1.642}, "y2": {"datum": -2.151}}},
      {"data": {"name": "one"}, "mark": {"type": "rule", "color": "#e0e3eb", "strokeWidth": 1},
       "encoding": {"x": {"datum": 2065.69}, "y": {"datum": -1.642}, "y2": {"datum": -2.151}}},
      {"data": {"name": "one"}, "mark": {"type": "rule", "color": "#e0e3eb", "strokeWidth": 1},
       "encoding": {"x": {"datum": 1957.55}, "x2": {"datum": 2072.15}, "y": {"datum": -2.151}}},
      {"data": {"name": "one"}, "mark": {"type": "rule", "color": "#e0e3eb", "strokeWidth": 1},
       "encoding": {"x": {"datum": 2065.69}, "x2": {"datum": 2072.15}, "y": {"datum": -1.642}}},
      {"data": {"name": "one"}, "mark": {"type": "rule", "color": "#e0e3eb", "strokeWidth": 1},
       "encoding": {"x": {"datum": 2065.69}, "x2": {"datum": 2072.15}, "y": {"datum": 1.585}}}
    ]
  }
]
}
